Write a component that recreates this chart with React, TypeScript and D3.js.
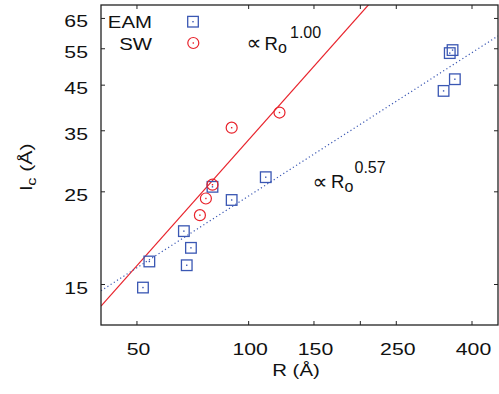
import React from "react";
import * as d3 from "d3";

const eamR = [51.9, 54.0, 66.9, 69.9, 68.1, 90.0, 79.9, 111.2, 348.4, 354.5, 359.6, 335.3];
const eamLc = [14.75, 17.03, 20.13, 18.36, 16.68, 23.9, 25.7, 27.1, 53.7, 54.6, 46.5, 43.6];
const swR = [90.0, 79.9, 76.7, 73.9, 121.1];
const swLc = [35.6, 26.0, 24.1, 21.98, 38.7];
const fitRange = [40, 470];
const swPrefactor = 0.333;
const swExponent = 1.0;
const eamPrefactor = 1.77;
const eamExponent = 0.57;
const xTicks = [50, 100, 150, 200, 250, 400];
const xTickLabels = ["50", "100", "150", "", "250", "400"];
const yTicks = [15, 25, 35, 45, 55, 65];
const yTickLabels = ["15", "25", "35", "45", "55", "65"];

const W = 499;
const H = 394;
const L = 101, R = 498, T = 5, B = 325;
const BLUE = "#3a57b3";
const RED = "#e8222b";
const FONT = "'Liberation Sans', Arial, Helvetica, sans-serif";

export default function App() {
  const x = d3.scaleLog().domain([40, 470]).range([L, R]);
  const y = d3.scaleLog().domain([12, 70]).range([B, T]);
  const line = d3
    .line<[number, number]>()
    .x((d) => x(d[0]))
    .y((d) => y(d[1]));
  const swFit = line(fitRange.map((r) => [r, swPrefactor * Math.pow(r, swExponent)] as [number, number]));
  const eamFit = line(fitRange.map((r) => [r, eamPrefactor * Math.pow(r, eamExponent)] as [number, number]));

  const square = (cx: number, cy: number, k: string) => (
    <g key={k}>
      <rect x={cx - 5.3} y={cy - 5.3} width={10.6} height={10.6} fill="none" stroke={BLUE} strokeWidth={1.3} />
      <rect x={cx - 0.7} y={cy - 0.7} width={1.4} height={1.4} fill={BLUE} />
    </g>
  );
  const circle = (cx: number, cy: number, k: string) => (
    <g key={k}>
      <circle cx={cx} cy={cy} r={5.5} fill="none" stroke={RED} strokeWidth={1.2} />
      <rect x={cx - 0.7} y={cy - 0.7} width={1.4} height={1.4} fill={RED} />
    </g>
  );

  const stretched = (tx: number, ty: number, sx: number, anchor: string, content: React.ReactNode, k: string, size = 17) => (
    <g key={k} transform={`translate(${tx},${ty}) scale(${sx},1)`}>
      <text x={0} y={0} textAnchor={anchor as any} fontFamily={FONT} fontSize={size} fill="#111">
        {content}
      </text>
    </g>
  );

  return (
    <div style={{ position: "fixed", left: 0, top: 0, width: W, height: H, background: "#fff" }}>
      <svg width={W} height={H} viewBox={`0 0 ${W} ${H}`}>
        <defs>
          <clipPath id="plotclip">
            <rect x={L} y={T} width={R - L} height={B - T} />
          </clipPath>
        </defs>
        <rect x={0} y={0} width={W} height={H} fill="#fff" />

        {/* ticks */}
        {xTicks.map((t, i) => (
          <g key={"xt" + i}>
            <line x1={x(t)} x2={x(t)} y1={B} y2={B - 4} stroke="#222" strokeWidth={1} />
            <line x1={x(t)} x2={x(t)} y1={T} y2={T + 4} stroke="#222" strokeWidth={1} />
          </g>
        ))}
        {yTicks.map((t, i) => (
          <g key={"yt" + i}>
            <line x1={L} x2={L + 4} y1={y(t)} y2={y(t)} stroke="#222" strokeWidth={1} />
            <line x1={R} x2={R - 4} y1={y(t)} y2={y(t)} stroke="#222" strokeWidth={1} />
          </g>
        ))}

        {/* tick labels */}
        {xTicks.map((t, i) =>
          xTickLabels[i] ? stretched(x(t) + 1.5, 355, 1.25, "middle", xTickLabels[i], "xl" + i) : null
        )}
        {yTicks.map((t, i) => stretched(88, y(t) + 9, 1.25, "end", yTickLabels[i], "yl" + i))}

        {/* fits */}
        <g clipPath="url(#plotclip)">
          <path d={swFit || ""} fill="none" stroke={RED} strokeWidth={1.2} />
          <path d={eamFit || ""} fill="none" stroke={BLUE} strokeWidth={1.2} strokeDasharray="1.2,2.6" />
        </g>

        {/* data */}
        {eamR.map((r, i) => square(x(r), y(eamLc[i]), "e" + i))}
        {swR.map((r, i) => circle(x(r), y(swLc[i]), "s" + i))}

        {/* frame */}
        <rect x={L} y={T} width={R - L} height={B - T} fill="none" stroke="#222" strokeWidth={1.3} />

        {/* legend */}
        {stretched(152, 28.3, 1.2, "end", "EAM", "lg1")}
        {square(193, 21.7, "lgs")}
        {stretched(152, 50, 1.2, "end", "SW", "lg2")}
        {circle(193.3, 43, "lgc")}

        {/* annotations */}
        <text x={246.5} y={50} fontFamily="'DejaVu Sans', sans-serif" fontSize={21} fill="#111">∝</text>
        <text x={264.5} y={50} fontFamily={FONT} fontSize={18.5} fill="#111">R</text>
        <text x={278} y={53.3} fontFamily={FONT} fontSize={16} fill="#111">o</text>
        <text x={290} y={38.3} fontFamily={FONT} fontSize={16} fill="#111">1.00</text>

        <text x={312.5} y={188.5} fontFamily="'DejaVu Sans', sans-serif" fontSize={21} fill="#111">∝</text>
        <text x={331} y={188.3} fontFamily={FONT} fontSize={18.5} fill="#111">R</text>
        <text x={344.5} y={191.7} fontFamily={FONT} fontSize={16} fill="#111">o</text>
        <text x={354.5} y={173.3} fontFamily={FONT} fontSize={16} fill="#111">0.57</text>

        {/* axis labels */}
        {stretched(296, 376, 1.2, "middle", "R (Å)", "xlab")}
        <g transform="translate(32,167) rotate(-90) scale(1.25,1)">
          <text x={0} y={0} textAnchor="middle" fontFamily={FONT} fontSize={17} fill="#111">
            l<tspan fontSize={13} dy={4}>c</tspan>
            <tspan dy={-4}> (Å)</tspan>
          </text>
        </g>
      </svg>
    </div>
  );
}
